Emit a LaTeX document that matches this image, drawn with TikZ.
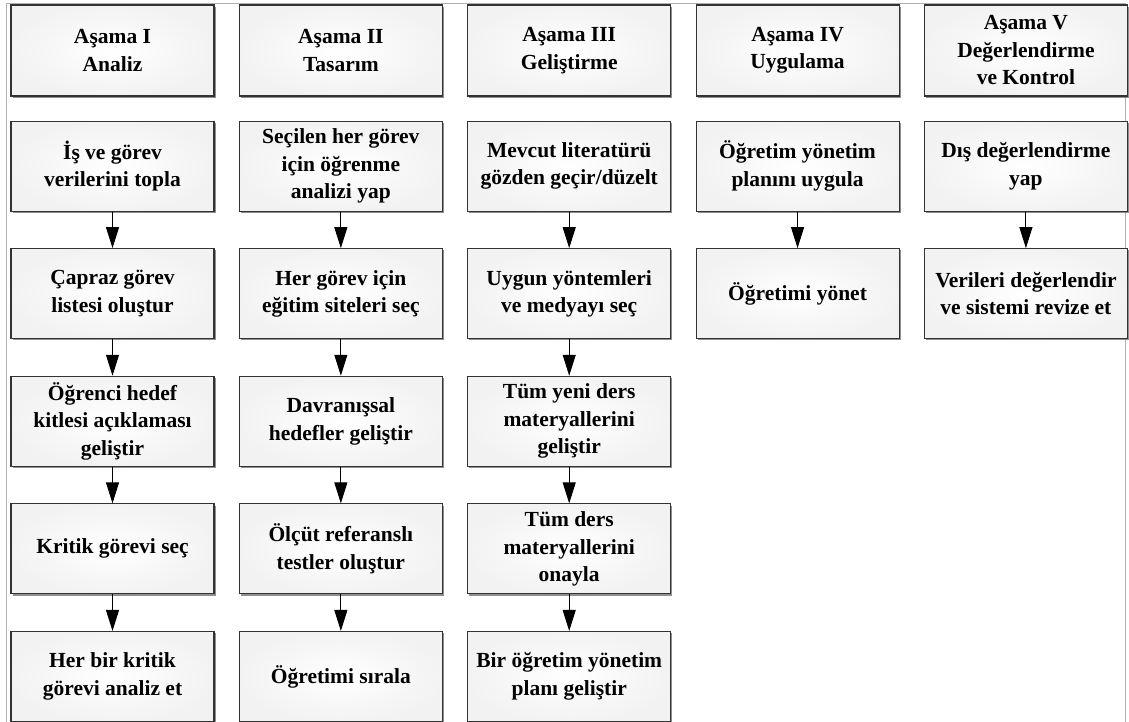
\documentclass[tikz,border=0pt]{standalone}
\usepackage{fontspec}
\setmainfont{Liberation Serif}
\usetikzlibrary{arrows.meta,shadows,positioning}

\tikzset{
  stage/.style={draw=black!80, line width=1.1pt, inner color=white, outer color=gray!10,
    drop shadow={shadow xshift=1.6pt, shadow yshift=-1.6pt, fill=black!55, opacity=0.8},
    minimum width=203pt, minimum height=90pt, inner sep=2pt, align=center,
    font=\fontsize{21.5}{27.5}\selectfont\bfseries},
  head/.style={stage, minimum height=91pt},
  flow/.style={line width=0.9pt, -{Triangle[length=21pt,width=13pt]}}
}

\begin{document}
\begin{tikzpicture}[x=1pt, y=-1pt, node distance=36.5pt]
\useasboundingbox (0,0) rectangle (1129,722);
\draw[gray!60, line width=0.9pt] (6,722) -- (6,3) -- (1125,3) -- (1125,722);

% phase headers
\node[head] (h1) at (112.5,50.5) {Aşama I\\Analiz};
\node[head, right=24.25pt of h1] (h2) {Aşama II\\Tasarım};
\node[head, right=24.25pt of h2] (h3) {Aşama III\\Geliştirme};
\node[head, right=24.25pt of h3] (h4) {Aşama IV\\Uygulama};
\node[head, right=24.25pt of h4] (h5) {Aşama V\\Değerlendirme\\ve Kontrol};

% Analiz
\node[stage, below=24pt of h1] (a1) {İş ve görev\\verilerini topla};
\node[stage, below=of a1] (a2) {Çapraz görev\\listesi oluştur};
\node[stage, below=of a2] (a3) {Öğrenci hedef\\kitlesi açıklaması\\geliştir};
\node[stage, below=of a3] (a4) {Kritik görevi seç};
\node[stage, below=of a4] (a5) {Her bir kritik\\görevi analiz et};

% Tasarım
\node[stage, below=24pt of h2] (b1) {Seçilen her görev\\için öğrenme\\analizi yap};
\node[stage, below=of b1] (b2) {Her görev için\\eğitim siteleri seç};
\node[stage, below=of b2] (b3) {Davranışsal\\hedefler geliştir};
\node[stage, below=of b3] (b4) {Ölçüt referanslı\\testler oluştur};
\node[stage, below=of b4] (b5) {Öğretimi sırala};

% Geliştirme
\node[stage, below=24pt of h3] (c1) {Mevcut literatürü\\gözden geçir/düzelt};
\node[stage, below=of c1] (c2) {Uygun yöntemleri\\ve medyayı seç};
\node[stage, below=of c2] (c3) {Tüm yeni ders\\materyallerini\\geliştir};
\node[stage, below=of c3] (c4) {Tüm ders\\materyallerini\\onayla};
\node[stage, below=of c4] (c5) {Bir öğretim yönetim\\planı geliştir};

% Uygulama, Değerlendirme
\node[stage, below=24pt of h4] (d1) {Öğretim yönetim\\planını uygula};
\node[stage, below=of d1] (d2) {Öğretimi yönet};
\node[stage, below=24pt of h5] (e1) {Dış değerlendirme\\yap};
\node[stage, below=of e1] (e2) {Verileri değerlendir\\ve sistemi revize et};

\foreach \c in {a,b,c} {
  \foreach \i [evaluate=\i as \j using int(\i+1)] in {1,2,3,4} {
    \draw[flow] (\c\i) -- (\c\j);
  }
}
\foreach \c in {d,e} {
  \draw[flow] (\c1) -- (\c2);
};
\end{tikzpicture}
\end{document}
